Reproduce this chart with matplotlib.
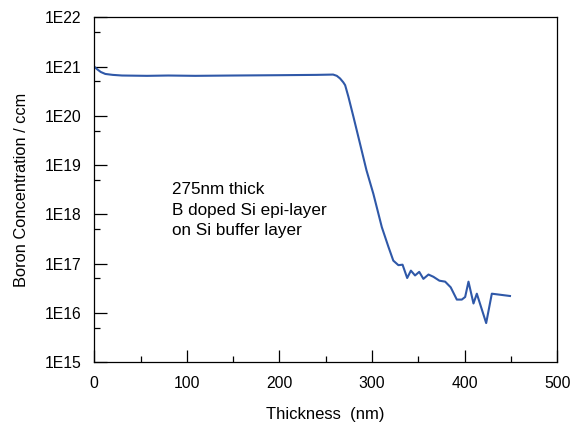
"""
Boron SIMS depth profile of a 275 nm B-doped Si epi-layer on a Si buffer layer.

Output: out.png
"""

import matplotlib
import matplotlib.pyplot as plt
import numpy as np
from matplotlib.ticker import FixedLocator, FuncFormatter, LogLocator, MultipleLocator

matplotlib.use("Agg")

plt.rcParams["font.family"] = ["Liberation Sans", "DejaVu Sans"]

# depth (nm) and boron concentration (atoms / ccm)
thickness_nm = [0, 3, 7, 12, 20, 30, 57, 80, 109, 150, 200, 240, 258, 262,
                265.5, 269, 271, 274.5, 280, 287, 294, 301.5, 310.6, 317.7,
                323, 328.5, 333, 338, 342, 346.5, 351, 355.5, 361, 366.3,
                372.8, 379, 385, 391.6, 397, 400.6, 404.2, 409.6, 413.2,
                423.3, 429.4, 449]
boron_conc = [1.0e21, 8.9e20, 7.8e20, 7.1e20, 6.8e20, 6.6e20, 6.5e20, 6.6e20,
              6.5e20, 6.6e20, 6.7e20, 6.8e20, 6.9e20, 6.5e20,
              5.75e20, 4.8e20, 4.2e20, 2.45e20, 9.5e19, 2.75e19, 7.9e18,
              2.6e18, 5.5e17, 2.2e17,
              1.15e17, 9.3e16, 9.5e16, 5.1e16, 7.2e16, 5.75e16, 6.8e16,
              4.9e16, 6.0e16, 5.4e16,
              4.5e16, 4.3e16, 3.3e16, 1.86e16, 1.86e16, 2.1e16, 4.3e16,
              1.55e16, 2.45e16,
              6.2e15, 2.45e16, 2.2e16]

decades = [1e15, 1e16, 1e17, 1e18, 1e19, 1e20, 1e21, 1e22]
annotation = "275nm thick\nB doped Si epi-layer\non Si buffer layer"


def main():
    fig, ax = plt.subplots(figsize=(5.78, 4.24), dpi=100)
    fig.subplots_adjust(left=0.163, right=0.964, bottom=0.146, top=0.959)

    ax.plot(thickness_nm, boron_conc, color="#2F58A8", linewidth=1.5)

    ax.set_yscale("log")
    ax.set_xlim(0, 500)
    ax.set_ylim(decades[0], decades[-1])

    ax.xaxis.set_major_locator(MultipleLocator(100))
    ax.xaxis.set_minor_locator(MultipleLocator(50))
    ax.yaxis.set_major_locator(FixedLocator(decades))
    ax.yaxis.set_minor_locator(LogLocator(base=10, subs=[5]))
    ax.yaxis.set_major_formatter(
        FuncFormatter(lambda v, _: f"1E{int(round(np.log10(v)))}"))
    ax.yaxis.set_minor_formatter(FuncFormatter(lambda v, _: ""))

    ax.tick_params(which="both", direction="in", top=False, right=False,
                   width=0.9, colors="black", labelsize=11.3)
    ax.tick_params(which="major", length=9)
    ax.tick_params(which="minor", length=4.5)
    ax.tick_params(axis="y", pad=9)
    ax.tick_params(axis="x", pad=10)

    for spine in ax.spines.values():
        spine.set_linewidth(0.9)

    ax.set_xlabel("Thickness  (nm)", fontsize=12)
    ax.set_ylabel("Boron Concentration / ccm", fontsize=11.8)
    ax.xaxis.set_label_coords(0.5, -0.151)
    ax.xaxis.label.set_va("center")
    ax.yaxis.set_label_coords(-0.158, 0.5)
    ax.yaxis.label.set_va("center")

    ax.text(0.167, 0.441, annotation, transform=ax.transAxes, fontsize=12.3,
            va="center", ha="left", linespacing=1.45)

    fig.savefig("out.png", dpi=100)
    plt.close(fig)


if __name__ == "__main__":
    main()
